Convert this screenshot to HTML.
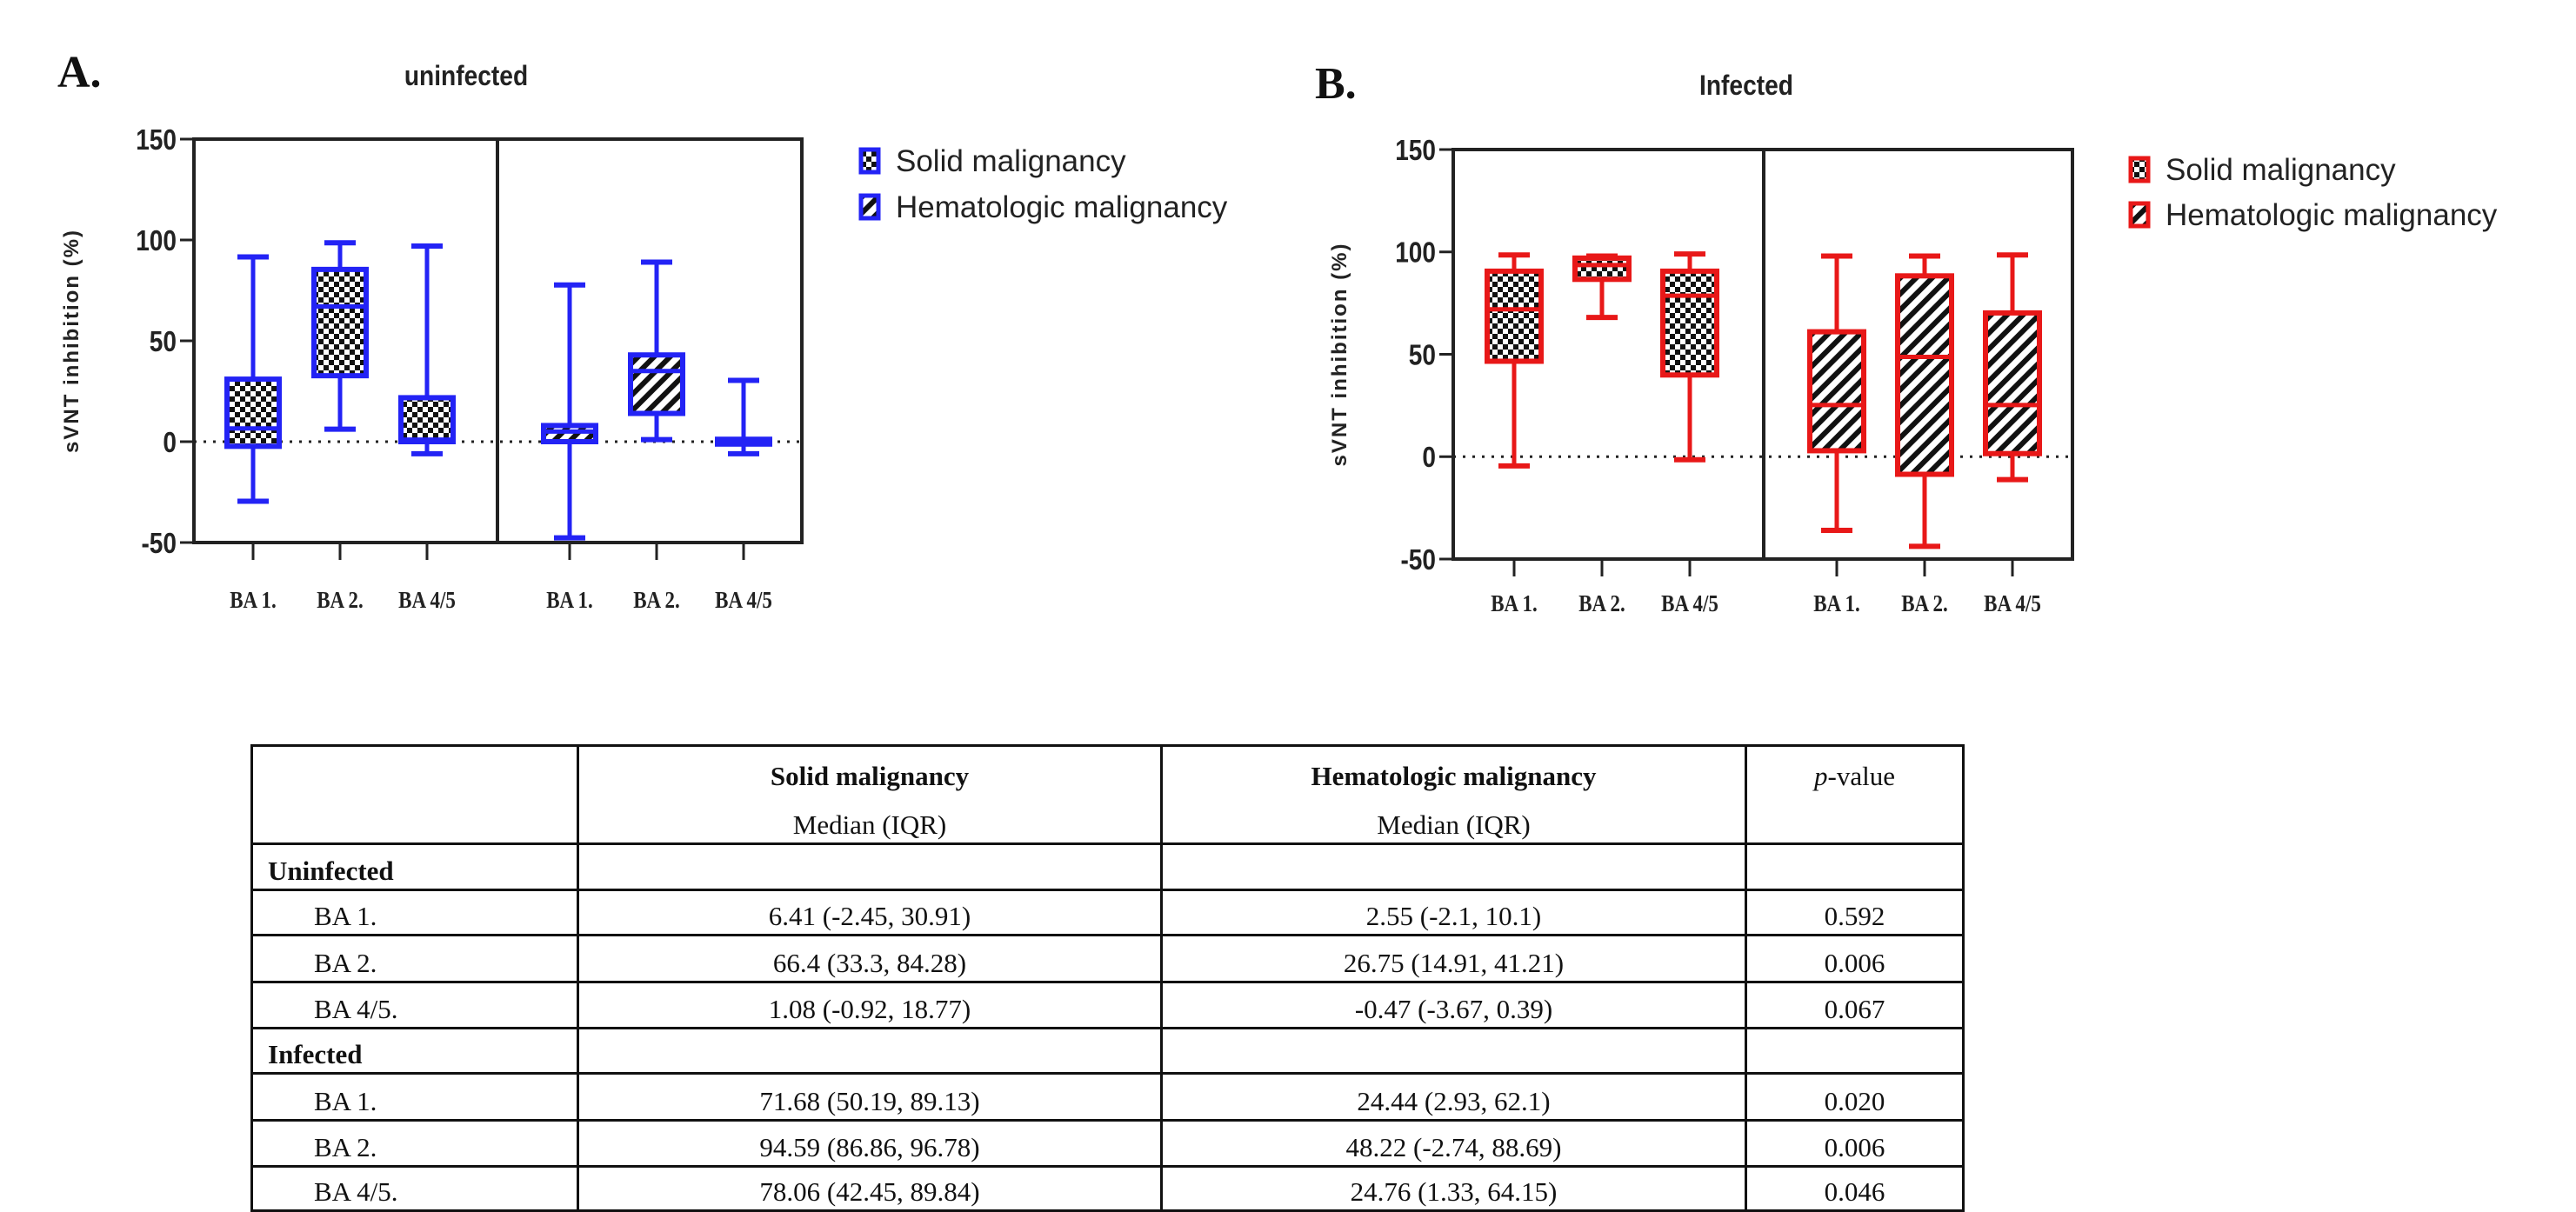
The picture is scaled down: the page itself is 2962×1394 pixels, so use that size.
<!DOCTYPE html>
<html><head><meta charset="utf-8"><style>
body{margin:0;width:2962px;height:1394px;background:#fff;position:relative;overflow:hidden;font-family:"Liberation Sans",sans-serif}
svg{position:absolute;left:0;top:0}
table{position:absolute;left:288px;top:856px;border-collapse:collapse;font-family:"Liberation Serif",serif;font-size:31px;color:#111;table-layout:fixed}
td{border:3px solid #111;padding:0 0 2px 0;vertical-align:bottom;overflow:hidden;white-space:nowrap}
.c{text-align:center}
.s{display:inline-block}
.l{display:inline-block}
</style></head><body>
<svg id="chart" width="2962" height="1394">
<defs>
<pattern id="chk" width="12" height="12" patternUnits="userSpaceOnUse"><rect width="12" height="12" fill="#fff"/><rect width="6" height="6" fill="#111"/><rect x="6" y="6" width="6" height="6" fill="#111"/></pattern>
<pattern id="hat" width="13" height="13" patternUnits="userSpaceOnUse" patternTransform="rotate(45)"><rect width="13" height="13" fill="#fff"/><rect width="6" height="13" fill="#111"/></pattern>
</defs>
</svg>
<table>
<colgroup><col style="width:375px"><col style="width:671px"><col style="width:672px"><col style="width:250px"></colgroup>
<tr style="height:112px"><td></td><td class="c" style="vertical-align:top"><div style="margin-top:16px;font-weight:bold"><span class="s">Solid malignancy</span></div><div style="margin-top:20px"><span class="s">Median (IQR)</span></div></td><td class="c" style="vertical-align:top"><div style="margin-top:16px;font-weight:bold"><span class="s">Hematologic malignancy</span></div><div style="margin-top:20px"><span class="s">Median (IQR)</span></div></td><td class="c" style="vertical-align:top"><div style="margin-top:16px"><span class="s"><i>p</i>-value</span></div></td></tr>
<tr style="height:53px"><td style="padding-left:17px;font-weight:bold"><span class="l">Uninfected</span></td><td></td><td></td><td></td></tr>
<tr style="height:52px"><td style="padding-left:70px"><span class="l">BA 1.</span></td><td class="c"><span class="s">6.41 (-2.45, 30.91)</span></td><td class="c"><span class="s">2.55 (-2.1, 10.1)</span></td><td class="c"><span class="s">0.592</span></td></tr>
<tr style="height:54px"><td style="padding-left:70px"><span class="l">BA 2.</span></td><td class="c"><span class="s">66.4 (33.3, 84.28)</span></td><td class="c"><span class="s">26.75 (14.91, 41.21)</span></td><td class="c"><span class="s">0.006</span></td></tr>
<tr style="height:53px"><td style="padding-left:70px"><span class="l">BA 4/5.</span></td><td class="c"><span class="s">1.08 (-0.92, 18.77)</span></td><td class="c"><span class="s">-0.47 (-3.67, 0.39)</span></td><td class="c"><span class="s">0.067</span></td></tr>
<tr style="height:52px"><td style="padding-left:17px;font-weight:bold"><span class="l">Infected</span></td><td></td><td></td><td></td></tr>
<tr style="height:54px"><td style="padding-left:70px"><span class="l">BA 1.</span></td><td class="c"><span class="s">71.68 (50.19, 89.13)</span></td><td class="c"><span class="s">24.44 (2.93, 62.1)</span></td><td class="c"><span class="s">0.020</span></td></tr>
<tr style="height:53px"><td style="padding-left:70px"><span class="l">BA 2.</span></td><td class="c"><span class="s">94.59 (86.86, 96.78)</span></td><td class="c"><span class="s">48.22 (-2.74, 88.69)</span></td><td class="c"><span class="s">0.006</span></td></tr>
<tr style="height:51px"><td style="padding-left:70px"><span class="l">BA 4/5.</span></td><td class="c"><span class="s">78.06 (42.45, 89.84)</span></td><td class="c"><span class="s">24.76 (1.33, 64.15)</span></td><td class="c"><span class="s">0.046</span></td></tr>
</table>
<script>
const categories = ["BA 1.","BA 2.","BA 4/5","BA 1.","BA 2.","BA 4/5"];
const yTicks = [150,100,50,0,-50];
const uninfMin = [-29.5, 6.2, -6, -47.7, 1, -6];
const uninfQ1 = [-2.3, 32.7, 0, 0, 14, -1.2];
const uninfMed = [6.6, 67, 1, 5, 35, 0];
const uninfQ3 = [31, 85.4, 21.8, 8, 43, 1.2];
const uninfMax = [91.6, 98.6, 97, 77.7, 89, 30.4];
const infMin = [-4.5, 68, -1.5, -36, -43.8, -11.2];
const infQ1 = [46.6, 86.6, 39.9, 2.9, -8.6, 1.5];
const infMed = [72, 93.6, 78.6, 25.2, 48.7, 25.2];
const infQ3 = [90.6, 97, 90.6, 61, 88.3, 70.2];
const infMax = [98.5, 98, 99, 98, 98, 98.5];
const groupFill = ["chk","chk","chk","hat","hat","hat"];

const svg = document.getElementById('chart');
const NS = 'http://www.w3.org/2000/svg';
function mk(tag, attrs, parent){const e=document.createElementNS(NS,tag);for(const k in attrs)e.setAttribute(k,attrs[k]);(parent||svg).appendChild(e);return e;}

function panel(p){
  const g = mk('g',{});
  
  
  const y = v => p.top + (150 - v) * (p.bottom - p.top) / 200;
  const x = i => i < 3 ? p.c0 + p.sp*i : p.c3 + p.sp*(i-3);
  const L = mk('text',{x:p.letterX,y:p.letterY,'font-family':'Liberation Serif,serif','font-weight':'bold','font-size':52,fill:'#111'},g);
  L.textContent = p.letter;
  
  
  const T = mk('text',{x:p.titleX,y:p.titleY,'text-anchor':'middle','font-weight':'bold','font-size':32,fill:'#222',transform:`translate(${p.titleX},0) scale(0.88,1) translate(${-p.titleX},0)`},g);
  T.textContent = p.title;
  
  
  const cy=(p.top+p.bottom)/2;
  const YT = mk('text',{x:0,y:0,'text-anchor':'middle','font-weight':'bold','font-size':24,'letter-spacing':2,fill:'#222',transform:`translate(${p.ytX},${cy}) rotate(-90)`},g);
  YT.textContent = 'sVNT inhibition (%)';
  
  
  const z = mk('line',{x1:p.left,x2:p.right,y1:y(0),y2:y(0),stroke:'#222','stroke-width':3,'stroke-dasharray':'3 8'},g);
  
  
  for(let i=0;i<6;i++){
    const bg = mk('g',{},g);
    
    
    const cx=x(i), w=p.bw;
    mk('line',{x1:cx,x2:cx,y1:y(p.max[i]),y2:y(p.min[i]),stroke:p.color,'stroke-width':5},bg);
    mk('line',{x1:cx-18,x2:cx+18,y1:y(p.max[i]),y2:y(p.max[i]),stroke:p.color,'stroke-width':6},bg);
    mk('line',{x1:cx-18,x2:cx+18,y1:y(p.min[i]),y2:y(p.min[i]),stroke:p.color,'stroke-width':6},bg);
    mk('rect',{x:cx-w/2,y:y(p.q3[i]),width:w,height:Math.max(2,y(p.q1[i])-y(p.q3[i])),fill:`url(#${groupFill[i]})`,stroke:p.color,'stroke-width':6},bg);
    mk('line',{x1:cx-w/2,x2:cx+w/2,y1:y(p.med[i]),y2:y(p.med[i]),stroke:p.color,'stroke-width':5},bg);
    mk('line',{x1:cx,x2:cx,y1:p.bottom,y2:p.bottom+20,stroke:'#222','stroke-width':3},bg);
    const t = mk('text',{x:cx,y:p.xlY,'text-anchor':'middle','font-family':'Liberation Serif,serif','font-weight':'bold','font-size':27,fill:'#222',transform:`translate(${cx},0) scale(0.85,1) translate(${-cx},0)`},bg);
    t.textContent = categories[i];
    
    
  }
  const fr = mk('rect',{x:p.left,y:p.top,width:p.right-p.left,height:p.bottom-p.top,fill:'none',stroke:'#222','stroke-width':4},g);
  
  
  mk('line',{x1:p.div,x2:p.div,y1:p.top,y2:p.bottom,stroke:'#222','stroke-width':4},g);
  yTicks.forEach(v=>{
    mk('line',{x1:p.left-16,x2:p.left,y1:y(v),y2:y(v),stroke:'#222','stroke-width':3},g);
    const t=mk('text',{x:p.left-20,y:y(v)+12,'text-anchor':'end','font-weight':'bold','font-size':33,fill:'#222',transform:`translate(${p.left-20},0) scale(0.85,1) translate(${-(p.left-20)},0)`},g);
    t.textContent=v;
    
    
  });
  const lg = mk('g',{},g);
  
  
  [['chk','Solid malignancy',p.legY[0]],['hat','Hematologic malignancy',p.legY[1]]].forEach(([f,lab,ly])=>{
    const e=mk('g',{},lg);
    
    
    mk('rect',{x:p.legX,y:ly-13,width:20,height:26,fill:`url(#${f})`,stroke:p.color,'stroke-width':5},e);
    const t=mk('text',{x:p.legX+40,y:ly+12,'font-size':35,fill:'#222'},e);
    t.textContent=lab;
  });
}
panel({name:'panel-a-uninfected',letter:'A.',letterX:66,letterY:100,title:'uninfected',titleX:536,titleY:98,ytX:90,
  left:223,right:922,div:572,top:160,bottom:624,bw:60,c0:291,c3:655,sp:100,xlY:699,color:'#2323f5',
  min:uninfMin,q1:uninfQ1,med:uninfMed,q3:uninfQ3,max:uninfMax,legX:990,legY:[185,238]});
panel({name:'panel-b-infected',letter:'B.',letterX:1512,letterY:113,title:'Infected',titleX:2008,titleY:109,ytX:1548,
  left:1671,right:2383,div:2028,top:172,bottom:643,bw:62,c0:1741,c3:2112,sp:101,xlY:703,color:'#e81818',
  min:infMin,q1:infQ1,med:infMed,q3:infQ3,max:infMax,legX:2450,legY:[195,247]});
</script>
</body></html>
